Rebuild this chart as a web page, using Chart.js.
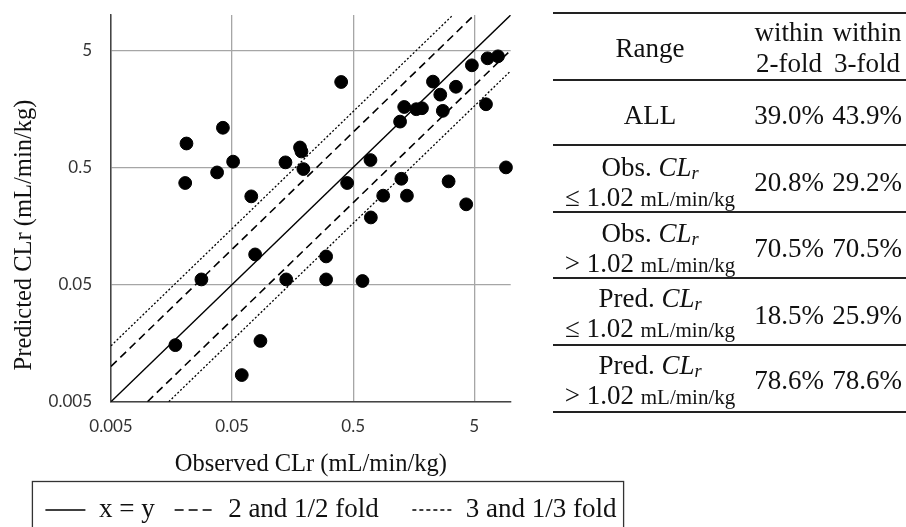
<!DOCTYPE html>
<html><head><meta charset="utf-8">
<script src="https://cdn.jsdelivr.net/npm/chart.js@4/dist/chart.umd.min.js"></script>
<style>
html,body{margin:0;padding:0;background:#fff;overflow:hidden;}
#wrap{position:relative;width:906px;height:527px;}
#c{position:absolute;left:0;top:0;}
.t{position:absolute;transform:translate(-50%,-50%);font-family:"Liberation Serif",serif;font-size:27px;line-height:1;white-space:nowrap;color:#111;}
.sm{font-size:21px;}
.t sub{font-size:0.68em;vertical-align:-0.2em;line-height:0;}
.rule{position:absolute;left:553px;width:353px;background:#222;}
</style></head><body>
<div id="wrap"><canvas id="c" width="906" height="527"></canvas><div id="tbl"></div></div>
<script>
// ---- data ----
const observedCLr = [0.398, 0.021, 0.042, 0.0205, 0.0376, 0.051, 0.072, 0.138, 0.182, 0.187, 0.194, 0.695, 0.446, 1.22, 1.32, 1.66, 1.85, 2.28, 2.62, 2.75, 3.53, 4.78, 6.44, 7.85, 6.25, 9.14, 1.25, 0.885, 1.39, 3.07, 4.29, 0.70, 0.0775, 0.299, 0.0279, 0.140, 0.299, 0.597, 0.017, 0.0857, 0.0601];
const predictedCLr = [2.68, 0.80, 1.09, 0.368, 0.453, 0.560, 0.283, 0.552, 0.74, 0.684, 0.484, 0.578, 0.368, 1.23, 1.64, 1.57, 1.60, 2.70, 2.09, 1.52, 2.44, 3.72, 4.27, 4.44, 1.73, 0.50, 0.40, 0.287, 0.287, 0.38, 0.242, 0.187, 0.0904, 0.0869, 0.0553, 0.0553, 0.0553, 0.0536, 0.0152, 0.0165, 0.00844];
const axisMin = 0.005, axisMax = 10;
const tickValues = [0.005, 0.05, 0.5, 5];
const tickLabels = ['0.005', '0.05', '0.5', '5'];
const identityLine = [{x: 0.005, y: 0.005}, {x: 10, y: 10}];
const twoFoldUpper = [{x: 0.005, y: 0.01}, {x: 5, y: 10}];
const twoFoldLower = [{x: 0.01, y: 0.005}, {x: 10, y: 5}];
const threeFoldUpper = [{x: 0.005, y: 0.015}, {x: 3.3333, y: 10}];
const threeFoldLower = [{x: 0.015, y: 0.005}, {x: 10, y: 3.3333}];
const legendLabels = ['x = y', '2 and 1/2 fold', '3 and 1/3 fold'];
const xTitle = 'Observed CLr (mL/min/kg)';
const yTitle = 'Predicted CLr (mL/min/kg)';
// table
const tableHeader = ['Range', 'within', 'within', '2-fold', '3-fold'];
const rangeSubject = ['ALL', 'Obs.', 'Obs.', 'Pred.', 'Pred.'];
const rangeOperator = ['', '\u2264', '>', '\u2264', '>'];
const rangeThreshold = '1.02';
const rangeUnit = 'mL/min/kg';
const within2Fold = ['39.0%', '20.8%', '70.5%', '18.5%', '78.6%'];
const within3Fold = ['43.9%', '29.2%', '70.5%', '25.9%', '78.6%'];

// ---- table (HTML text) ----
const tbl = document.getElementById('tbl');
function txt(html, x, y, cls) {
  const d = document.createElement('div');
  d.className = 't' + (cls ? ' ' + cls : '');
  d.style.left = x + 'px'; d.style.top = y + 'px';
  d.innerHTML = html; tbl.appendChild(d);
}
function rule(y, h) {
  const d = document.createElement('div');
  d.className = 'rule'; d.style.top = (y - h / 2) + 'px'; d.style.height = h + 'px';
  tbl.appendChild(d);
}
const colX = [650, 789, 867];
txt(tableHeader[0], colX[0], 48);
txt(tableHeader[1], colX[1], 32); txt(tableHeader[2], colX[2], 32);
txt(tableHeader[3], colX[1], 63); txt(tableHeader[4], colX[2], 63);
const valueY = [115, 182, 248, 315, 380];
const line1Y = [115, 167, 233, 298, 365];
const line2Y = [0, 197, 263, 328, 395];
rangeSubject.forEach((s, i) => {
  if (i === 0) { txt(s, colX[0], line1Y[i]); }
  else {
    txt(s + ' <i>CL<sub>r</sub></i>', colX[0], line1Y[i]);
    txt(rangeOperator[i] + ' ' + rangeThreshold + ' <span class="sm">' + rangeUnit + '</span>', colX[0], line2Y[i]);
  }
  txt(within2Fold[i], colX[1], valueY[i]);
  txt(within3Fold[i], colX[2], valueY[i]);
});
[[13.3, 2], [80, 2], [145, 2.5], [212, 1.6], [278, 1.6], [345, 1.6], [412, 2]].forEach(r => rule(r[0], r[1]));

// ---- chart ----
const legendDash = [[], [9, 5], [4, 3]];
const legendDsIndex = [1, 2, 4];
const extras = {
  id: 'extras',
  afterDraw(chart) {
    const ctx = chart.ctx;
    // y-axis title
    ctx.save();
    ctx.translate(31, 235);
    ctx.rotate(-Math.PI / 2);
    ctx.font = '24.5px "Liberation Serif"';
    ctx.fillStyle = '#111';
    ctx.textAlign = 'center';
    ctx.textBaseline = 'alphabetic';
    ctx.fillText(yTitle, 0, 0);
    ctx.restore();
    // legend frame
    const lg = chart.legend;
    const hb = lg.legendHitBoxes;
    if (hb && hb.length) {
      const first = hb[0], last = hb[hb.length - 1];
      const cy = first.top + first.height / 2;
      ctx.save();
      ctx.strokeStyle = '#333';
      ctx.lineWidth = 1.3;
      ctx.strokeRect(first.left - 13, cy - 28.5, (last.left + last.width + 7) - (first.left - 13), 80);
      ctx.restore();
    }
  }
};

const lineStyle = {showLine: true, pointRadius: 0, pointHoverRadius: 0, borderColor: '#000', backgroundColor: '#000', fill: false};
new Chart(document.getElementById('c'), {
  type: 'scatter',
  data: {
    datasets: [
      {label: 'data', data: observedCLr.map((x, i) => ({x: x, y: predictedCLr[i]})), backgroundColor: '#000', borderColor: '#000', pointRadius: 6.4, pointHoverRadius: 6.4, clip: false},
      Object.assign({label: legendLabels[0], data: identityLine, borderWidth: 1.4}, lineStyle),
      Object.assign({label: legendLabels[1], data: twoFoldUpper, borderWidth: 1.6, borderDash: [8, 5]}, lineStyle),
      Object.assign({label: legendLabels[1] + ' (lower)', data: twoFoldLower, borderWidth: 1.6, borderDash: [8, 5]}, lineStyle),
      Object.assign({label: legendLabels[2], data: threeFoldUpper, borderWidth: 1.3, borderDash: [2, 2]}, lineStyle),
      Object.assign({label: legendLabels[2] + ' (lower)', data: threeFoldLower, borderWidth: 1.3, borderDash: [2, 2]}, lineStyle)
    ]
  },
  options: {
    responsive: false,
    animation: false,
    events: [],
    layout: {autoPadding: false, padding: {top: 15, left: 0, right: 244, bottom: -6.5}},
    plugins: {
      tooltip: {enabled: false},
      legend: {
        position: 'bottom',
        labels: {
          usePointStyle: true,
          pointStyle: 'line',
          pointStyleWidth: 40,
          boxWidth: 40,
          padding: 20,
          color: '#111',
          font: {family: 'Liberation Serif', size: 27},
          generateLabels: () => legendLabels.map((t, i) => ({
            text: i === 1 ? t + '  ' : t,
            datasetIndex: legendDsIndex[i],
            strokeStyle: '#000', fillStyle: '#000', fontColor: '#111',
            lineWidth: 1.5, lineDash: legendDash[i], pointStyle: 'line', hidden: false
          }))
        }
      }
    },
    scales: {
      x: {
        type: 'logarithmic', position: 'bottom', min: axisMin, max: axisMax,
        afterBuildTicks: s => { s.ticks = tickValues.map(v => ({value: v})); },
        afterFit: s => { s.height = 74.8; s.paddingLeft = 0; s.paddingRight = 0; },
        ticks: {callback: (v, i) => tickLabels[i], font: {family: 'Lato', size: 17}, color: '#333', padding: 15, maxRotation: 0, autoSkip: false},
        grid: {color: '#a6a6a6', lineWidth: 1.3, drawTicks: false},
        border: {color: '#444', width: 1.5},
        title: {display: true, text: xTitle, color: '#111', font: {family: 'Liberation Serif', size: 24.5, lineHeight: 1}, padding: {top: 0, bottom: 0}}
      },
      y: {
        type: 'logarithmic', position: 'left', min: axisMin, max: axisMax,
        afterBuildTicks: s => { s.ticks = tickValues.map(v => ({value: v})); },
        afterFit: s => { s.width = 111; s.paddingTop = 0; s.paddingBottom = 0; },
        ticks: {callback: (v, i) => tickLabels[i], font: {family: 'Lato', size: 17}, color: '#333', padding: 19, autoSkip: false},
        grid: {color: '#a6a6a6', lineWidth: 1.3, drawTicks: false},
        border: {color: '#444', width: 1.5}
      },
      r: {
        type: 'linear', position: 'right', display: true,
        grid: {display: false, drawTicks: false},
        ticks: {display: false},
        border: {display: false},
        afterFit: s => { s.width = 151.3; }
      }
    }
  },
  plugins: [extras]
});
</script>
</body></html>
